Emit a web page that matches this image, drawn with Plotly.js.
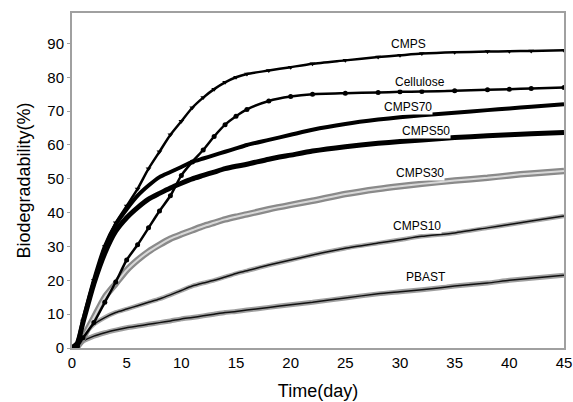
<!DOCTYPE html>
<html>
<head>
<meta charset="utf-8">
<script src="https://cdn.plot.ly/plotly-3.0.1.min.js"></script>
<style>html,body{margin:0;padding:0;background:#fff;}#chart{width:573px;height:402px;}</style>
</head>
<body>
<div id="chart"></div>
<script>
// Time (day)
const days = [0,0.5,1,2,3,4,5,6,7,8,9,10,11,12,13,14,15,16,18,20,22,25,28,30,32,35,38,40,42,45];
// Biodegradability (%)
const cmps      = [0,1,8,20,30,37,42,47,53,58,63,67,71,74,76.5,78.5,80,81,82,83,84,85,86,86.5,87,87.4,87.6,87.7,87.8,88];
const cellulose = [0,0.5,3,7.5,13.5,19.5,26,30.5,35.5,40.5,45,51,55,58.5,62.5,66,68.5,70.5,73,74.3,75,75.3,75.5,75.7,75.8,76,76.3,76.5,76.7,77];
const cmps70    = [0,1.5,8,20,30,36.5,41,45,48,50.5,52,53.5,55,56,57,58,59,60,61.5,63,64.5,66.2,67.5,68.2,68.8,69.5,70.3,70.8,71.3,72];
const cmps50    = [0,1.5,7.5,19,28,34.5,38.5,41.5,44,45.7,47.3,48.7,50,51,52,53,53.7,54.3,55.8,57,58.2,59.5,60.5,61,61.5,62.2,62.7,63,63.3,63.7];
const cmps30    = [0,0.5,3,9,15,19,23,26,28.5,30.5,32.3,33.6,34.8,36,37,38,38.8,39.5,41,42.3,43.5,45.5,47,47.8,48.5,49.5,50.3,51,51.6,52.3];
const cmps10    = [0,0.5,3.5,7,9,10.5,11.5,12.5,13.5,14.5,15.7,17,18.3,19.2,20,21,22,22.8,24.5,26,27.5,29.5,31,32,33,34,35.5,36.5,37.5,39];
const pbast     = [0,0.5,2,3.5,4.5,5.3,6,6.5,7,7.5,8,8.6,9,9.5,10,10.5,10.8,11.2,12,12.8,13.5,14.8,16,16.6,17.2,18.3,19.2,20,20.6,21.5];

const xTicks = [0,5,10,15,20,25,30,35,40,45];
const yTicks = [0,10,20,30,40,50,60,70,80,90];

const labels = ["CMPS","Cellulose","CMPS70","CMPS50","CMPS30","CMPS10","PBAST"];
const labelX = [30.8,31.8,30.7,32.4,31.8,31.6,32.4];
const labelY = [89.9,78.5,71.3,64.2,51.6,36.1,21.0];

function tr(y, color, width, marker) {
  return {x: days, y: y, type: 'scatter', mode: marker ? 'lines+markers' : 'lines',
    line: {color: color, width: width, shape: 'spline', smoothing: 0.6},
    marker: marker || {}, hoverinfo: 'skip', showlegend: false, cliponaxis: true};
}

const traces = [
  tr(pbast, '#a0a0a0', 5),
  tr(pbast, '#111', 1.5),
  tr(cmps10, '#a8a8a8', 4.5),
  tr(cmps10, '#111', 1.5),
  tr(cmps30, '#8a8a8a', 6.5),
  tr(cmps30, '#d8d8d8', 2),
  tr(cmps50, '#000', 5),
  tr(cmps70, '#000', 4),
  tr(cellulose, '#000', 2.5, {symbol: 'circle', size: 5, color: '#000'}),
  tr(cmps, '#000', 2.5, {symbol: 'triangle-down', size: 5, color: '#000'})
];

const annotations = labels.map((t, i) => ({
  x: labelX[i], y: labelY[i], xref: 'x', yref: 'y', text: t, showarrow: false,
  font: {family: 'Liberation Sans, Arial, sans-serif', size: 12, color: '#000'},
  bgcolor: '#fff', borderpad: 0
}));

const layout = {
  width: 573, height: 402,
  margin: {l: 72, r: 9, t: 13, b: 54},
  paper_bgcolor: '#fff', plot_bgcolor: '#fff',
  font: {family: 'Liberation Sans, Arial, sans-serif', color: '#000'},
  xaxis: {
    range: [0, 45], tickvals: xTicks, ticks: '', ticklabeloverflow: 'allow',
    showgrid: false, zeroline: false, showline: true, mirror: true,
    linecolor: '#a0a0a0', linewidth: 2, tickfont: {size: 15},
    title: {text: 'Time(day)', font: {size: 18}, standoff: 14}
  },
  yaxis: {
    range: [0, 99], tickvals: yTicks, ticks: 'outside', ticklen: 3,
    tickcolor: '#a0a0a0', showgrid: false, zeroline: false, showline: true, mirror: true,
    linecolor: '#a0a0a0', linewidth: 2, tickfont: {size: 15},
    title: {text: 'Biodegradability(%)', font: {size: 18}, standoff: 12}
  },
  annotations: annotations
};

Plotly.newPlot('chart', traces, layout, {displayModeBar: false, staticPlot: true});
</script>
</body>
</html>
